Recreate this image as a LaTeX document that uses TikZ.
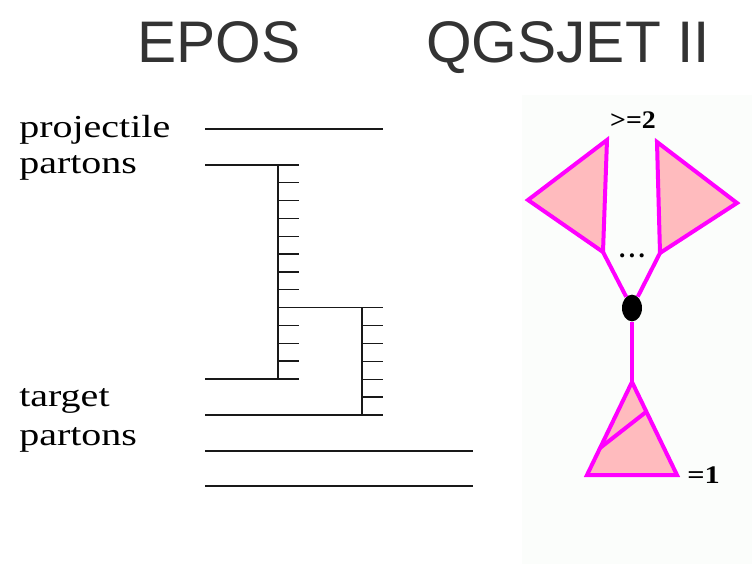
\documentclass[tikz,border=0pt]{standalone}
\usepackage{fontspec}
\setmainfont{Liberation Serif}
\newfontfamily\headfont{Liberation Sans}
\usepackage{tikz}
\usetikzlibrary{shapes.geometric}
\usepackage{xcolor}
\definecolor{inkgray}{RGB}{25,25,25}
\definecolor{headgray}{RGB}{51,51,51}
\definecolor{pommag}{RGB}{255,0,255}
\definecolor{pompink}{RGB}{255,187,190}
\definecolor{panelgray}{RGB}{251,253,251}

\begin{document}
\begin{tikzpicture}[x=0.75pt,y=-0.75pt,line cap=butt,
  leg/.style={inkgray,line width=1pt},
  pom/.style={pommag,line width=3pt,line join=miter},
  lbl/.style={anchor=base west,inner sep=0pt,font=\fontsize{24}{26}\selectfont},
  tag/.style={inner sep=0pt,font=\bfseries\fontsize{19}{21}\selectfont},
  head/.style={anchor=base,inner sep=0pt,headgray,font=\headfont\fontsize{44}{48}\selectfont}]
  \useasboundingbox (0,0) rectangle (754,564);
  \fill[panelgray] (522,95) rectangle (752,564);

  % titles
  \node[head] (epos) at (219,62) {EPOS};
  \node[head] (qgs) at (568,62) {QGSJET II};

  % left: parton ladders
  \node[lbl] (proj) at (19,137) {\scalebox{1.25}[1]{projectile}};
  \node[lbl] (ppart) at (19,173) {\scalebox{1.25}[1]{partons}};
  \node[lbl] (targ) at (19,406) {\scalebox{1.25}[1]{target}};
  \node[lbl] (tpart) at (19,445) {\scalebox{1.25}[1]{partons}};
  \draw[leg] (205,129) -- (383,129);
  \draw[leg] (205,165) -- (278,165);
  \draw[leg] (278,165) -- (278,379);
  \foreach \k in {0,...,12} \draw[leg] (278,165+17.83*\k) -- (299,165+17.83*\k);
  \draw[leg] (299,307.7) -- (383,307.7);
  \draw[leg] (362,307.7) -- (362,415);
  \foreach \k in {0,...,6} \draw[leg] (362,307.7+17.88*\k) -- (383,307.7+17.88*\k);
  \draw[leg] (205,379) -- (278,379);
  \draw[leg] (205,415) -- (362,415);
  \draw[leg] (205,451) -- (473,451);
  \draw[leg] (205,486) -- (473,486);

  % right: pomeron graph
  \coordinate (lt) at (607,140);
  \coordinate (ll) at (528,200);
  \coordinate (lb) at (603,252);
  \coordinate (rt) at (657,142);
  \coordinate (rr) at (737,203);
  \coordinate (rb) at (660,253);
  \coordinate (apex) at (632,382);
  \coordinate (bl) at (587,475);
  \coordinate (br) at (677,475);
  \filldraw[pom,fill=pompink] (lt) -- (ll) -- (lb) -- cycle;
  \filldraw[pom,fill=pompink] (rt) -- (rr) -- (rb) -- cycle;
  \node[ellipse,fill=black,inner sep=0pt,minimum width=15,minimum height=20] (vtx) at (632,308) {};
  \draw[pom] (lb) -- (vtx);
  \draw[pom] (rb) -- (vtx);
  \draw[pom] (vtx) -- (apex);
  \filldraw[pom,fill=pompink] (apex) -- (bl) -- (br) -- cycle;
  \draw[pom] (600,448) -- (646,412);
  \node[tag,anchor=base] (many) at (633,128) {\scalebox{1.1}[1]{>=2}};
  \node[tag,anchor=base] (dots) at (632,257) {.\hspace{2.5pt}.\hspace{2.5pt}.};
  \node[tag,anchor=base west] (one) at (687,483) {\scalebox{1.2}[1]{=1}};
\end{tikzpicture}
\end{document}
